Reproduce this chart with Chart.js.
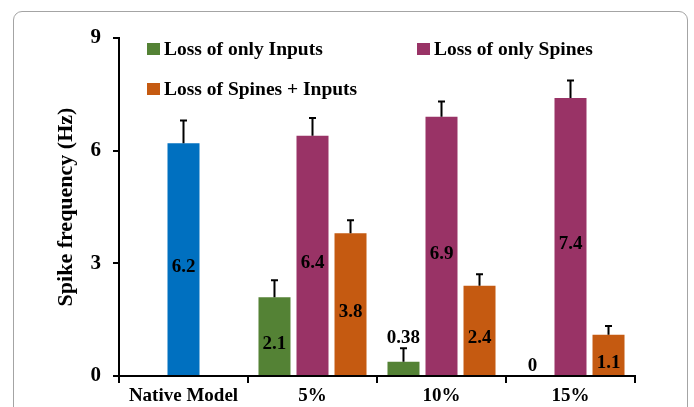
<!DOCTYPE html>
<html>
<head>
<meta charset="utf-8">
<script src="https://cdn.jsdelivr.net/npm/chart.js@4.4.0/dist/chart.umd.min.js"></script>
<style>
  body { margin: 0; background: #fff; }
  #wrap { position: relative; width: 694px; height: 407px; overflow: hidden; }
  #frame { position: absolute; left: 13px; top: 11px; width: 673px; height: 440px; border: 1px solid #a4a4a4; border-radius: 9px; }
  canvas { position: absolute; left: 0; top: 0; }
</style>
</head>
<body>
<div id="wrap">
  <div id="frame"></div>
  <canvas id="spikeChart" width="694" height="407"></canvas>
</div>
<script>
const categories = ['Native Model', '5%', '10%', '15%'];
const nativeValues = [6.2, null, null, null];
const nativeErrors = [0.6, null, null, null];
const inputsValues = [null, 2.1, 0.38, 0];
const inputsErrors = [null, 0.45, 0.36, 0];
const spinesValues = [null, 6.4, 6.9, 7.4];
const spinesErrors = [null, 0.47, 0.41, 0.47];
const bothValues = [null, 3.8, 2.4, 1.1];
const bothErrors = [null, 0.35, 0.31, 0.23];
const yTicks = [0, 3, 6, 9];

const serif = '"Liberation Serif", "Times New Roman", serif';

// error bars: only the upper half, with a small cap
const errorBars = {
  id: 'errorBars',
  afterDatasetsDraw(chart) {
    const ctx = chart.ctx;
    const y = chart.scales.y;
    ctx.save();
    ctx.strokeStyle = '#000';
    ctx.lineWidth = 2;
    chart.data.datasets.forEach((ds, i) => {
      chart.getDatasetMeta(i).data.forEach((bar, j) => {
        const v = ds.data[j], e = ds.errors[j];
        if (v == null || !e) return;
        const top = y.getPixelForValue(v + e);
        ctx.beginPath();
        ctx.moveTo(bar.x, bar.y);
        ctx.lineTo(bar.x, top);
        ctx.moveTo(bar.x - 3.5, top);
        ctx.lineTo(bar.x + 3.5, top);
        ctx.stroke();
      });
    });
    ctx.restore();
  }
};

// numbers written in the bars (or above the small ones)
const valueLabels = {
  id: 'valueLabels',
  afterDatasetsDraw(chart) {
    const ctx = chart.ctx;
    const y = chart.scales.y;
    ctx.save();
    ctx.fillStyle = '#000';
    ctx.font = 'bold 19px ' + serif;
    ctx.textAlign = 'center';
    ctx.textBaseline = 'middle';
    chart.data.datasets.forEach((ds, i) => {
      chart.getDatasetMeta(i).data.forEach((bar, j) => {
        const v = ds.data[j];
        if (v == null) return;
        let ly;
        if (v >= 1) ly = (bar.y + bar.base) / 2 + 8;
        else ly = y.getPixelForValue(v + (ds.errors[j] || 0)) - 10;
        ctx.fillText(String(v), bar.x, ly);
      });
    });
    ctx.restore();
  }
};

// legend laid out in two columns inside the plot
const cornerLegend = {
  id: 'cornerLegend',
  afterDraw(chart) {
    const ctx = chart.ctx;
    const spots = [null, [147, 49], [417, 49], [147, 89]];
    ctx.save();
    ctx.font = 'bold 19.5px ' + serif;
    ctx.textBaseline = 'middle';
    ctx.textAlign = 'left';
    chart.data.datasets.forEach((ds, i) => {
      const p = spots[i];
      if (!p) return;
      ctx.fillStyle = ds.backgroundColor;
      ctx.fillRect(p[0], p[1] - 6, 13, 12);
      ctx.fillStyle = '#000';
      ctx.fillText(ds.label, p[0] + 17, p[1] + 1);
    });
    ctx.restore();
  }
};

const ctx = document.getElementById('spikeChart').getContext('2d');

new Chart(ctx, {
  type: 'bar',
  data: {
    labels: categories,
    datasets: [
      { label: 'Native Model', data: nativeValues, errors: nativeErrors, backgroundColor: '#0070c0', skipNull: true },
      { label: 'Loss of only Inputs', data: inputsValues, errors: inputsErrors, backgroundColor: '#548235', skipNull: true },
      { label: 'Loss of only Spines', data: spinesValues, errors: spinesErrors, backgroundColor: '#993366', skipNull: true },
      { label: 'Loss of Spines + Inputs', data: bothValues, errors: bothErrors, backgroundColor: '#c55a11', skipNull: true }
    ]
  },
  options: {
    responsive: false,
    animation: false,
    categoryPercentage: 0.884,
    barPercentage: 0.9,
    maxBarThickness: 32,
    layout: { padding: { left: 53, top: 38, right: 59, bottom: 0 } },
    plugins: {
      legend: { display: false },
      tooltip: { enabled: false }
    },
    scales: {
      x: {
        grid: { display: true, drawOnChartArea: false, drawTicks: true, tickLength: 7, color: '#000', lineWidth: 2, offset: true },
        border: { display: true, color: '#000', width: 2 },
        ticks: { color: '#000', font: { family: serif, size: 19, weight: 'bold' }, padding: 2, maxRotation: 0 },
        afterFit(s) { s.height = 31; }
      },
      y: {
        min: 0,
        max: 9,
        afterBuildTicks(s) { s.ticks = yTicks.map(v => ({ value: v })); },
        grid: { drawOnChartArea: false, drawTicks: true, tickLength: 6, color: '#000', lineWidth: 2 },
        border: { display: true, color: '#000', width: 2 },
        ticks: { color: '#000', font: { family: serif, size: 21, weight: 'bold' }, padding: 12 },
        title: { display: true, text: 'Spike frequency (Hz)', color: '#000', font: { family: serif, size: 22, weight: 'bold' }, padding: 0 },
        afterFit(s) { s.width = 66; }
      }
    }
  },
  plugins: [errorBars, valueLabels, cornerLegend]
});
</script>
</body>
</html>
